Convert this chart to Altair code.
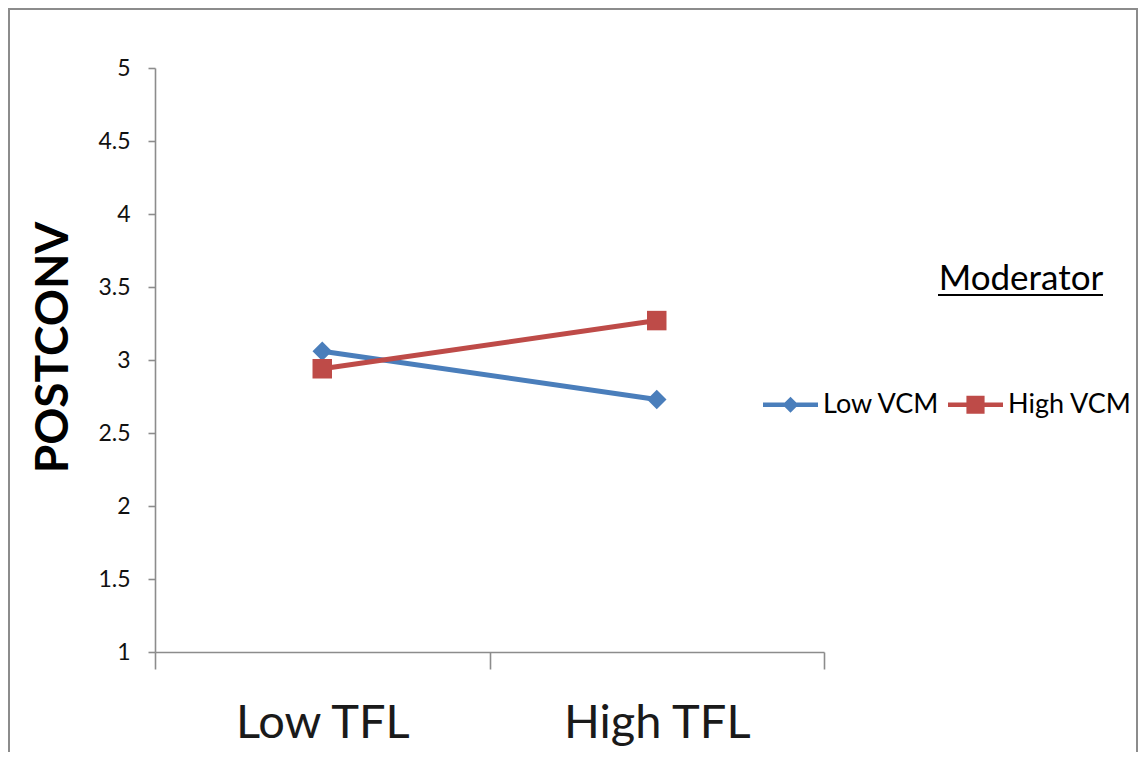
import altair as alt
import pandas as pd

# ---- data ----
categories = ["Low TFL", "High TFL"]
series_names = ["Low VCM", "High VCM"]
low_vcm = [3.06, 2.73]
high_vcm = [2.94, 3.27]
y_ticks = [1, 1.5, 2, 2.5, 3, 3.5, 4, 4.5, 5]
legend_title = ["Moderator"]
y_title = "POSTCONV"

colors = ["#4A7EBB", "#BE4B48"]
FONT = "Lato"

rows = []
for name, vals in zip(series_names, [low_vcm, high_vcm]):
    for cat, v in zip(categories, vals):
        rows.append({"tfl": cat, "series": name, "value": v})
df = pd.DataFrame(rows)

# legend symbols: line with marker (custom SVG paths in [-1,1] box)
legend_paths = [
    "M-1,-0.08L1,-0.08L1,0.08L-1,0.08Z M0,-0.29L0.29,0L0,0.29L-0.29,0Z",
    "M-1,-0.08L1,-0.08L1,0.08L-1,0.08Z M-0.33,-0.33L0.33,-0.33L0.33,0.33L-0.33,0.33Z",
]

W, H = 669, 584

x_enc = alt.X(
    "tfl:N",
    sort=categories,
    scale=alt.Scale(type="band", paddingInner=0, paddingOuter=0),
    axis=alt.Axis(
        title=None,
        tickBand="extent",
        tickSize=17,
        labelAngle=0,
        labelFont=FONT,
        labelFontSize=47,
        labelColor="#1a1a1a",
        labelBaseline="alphabetic",
        labelPadding=68,
        labelLimit=0,
        domainColor="#8c8c8c",
        tickColor="#8c8c8c",
        domainWidth=1.6,
        tickWidth=1.6,
        grid=False,
    ),
)
y_enc = alt.Y(
    "value:Q",
    scale=alt.Scale(domain=[1, 5], nice=False, zero=False),
    axis=alt.Axis(
        title=y_title,
        values=y_ticks,
        format="~g",
        tickSize=7,
        labelFont=FONT,
        labelFontSize=23,
        labelColor="#111111",
        labelPadding=18,
        titleFont=FONT,
        titleFontSize=46,
        titleFontWeight="bold",
        titleColor="#000000",
        titleBaseline="alphabetic",
        titleX=-88,
        titleY=279,
        titleAngle=-90,
        domainColor="#8c8c8c",
        tickColor="#8c8c8c",
        domainWidth=1.6,
        tickWidth=1.6,
        grid=False,
    ),
)
color_scale = alt.Scale(domain=series_names, range=colors)

base = alt.Chart(df)

lines = base.mark_line(strokeWidth=5, strokeCap="round").encode(
    x=x_enc,
    y=y_enc,
    color=alt.Color("series:N", scale=color_scale, legend=None),
    detail="series:N",
)

points = base.mark_point(filled=True, size=380, opacity=1).encode(
    x=x_enc,
    y=y_enc,
    color=alt.Color("series:N", scale=color_scale, legend=None),
    shape=alt.Shape(
        "series:N",
        scale=alt.Scale(domain=series_names, range=["diamond", "square"]),
        legend=None,
    ),
)

legend_props = dict(
    title=None,
    orient="none",
    legendX=608,
    legendY=309,
    direction="horizontal",
    symbolSize=3025,
    symbolStrokeWidth=0,
    labelFont=FONT,
    labelFontSize=27,
    labelColor="#000000",
    labelOffset=5,
    columnPadding=8,
    padding=0,
)

legend_layer = (
    base.transform_filter("false")
    .mark_point(filled=True, opacity=1)
    .encode(
        x=x_enc,
        y=y_enc,
        color=alt.Color("series:N", scale=color_scale, legend=alt.Legend(**legend_props)),
        shape=alt.Shape(
            "series:N",
            scale=alt.Scale(domain=series_names, range=legend_paths),
            legend=alt.Legend(**legend_props),
        ),
    )
)

title_df = pd.DataFrame({"t": legend_title})
mod_text = alt.Chart(title_df).mark_text(
    font=FONT, fontSize=35, color="#000000", align="center", baseline="alphabetic"
).encode(text="t:N", x=alt.value(866), y=alt.value(222))
mod_line = alt.Chart(title_df).mark_rule(color="#000000", strokeWidth=2).encode(
    x=alt.value(783), x2=alt.value(948), y=alt.value(227)
)

border = alt.Chart(title_df).mark_rect(
    fill=None, fillOpacity=0, stroke="#8c8c8c", strokeWidth=2
).encode(
    x=alt.value(-146), x2=alt.value(982), y=alt.value(-59), y2=alt.value(720)
)

chart = (
    alt.layer(border, lines, points, legend_layer, mod_text, mod_line)
    .resolve_scale(color="independent", shape="independent")
    .properties(
        width=W,
        height=H,
        autosize=alt.AutoSizeParams(type="none"),
        padding={"left": 147, "top": 60, "right": 315, "bottom": 100},
        background="white",
    )
    .configure_view(stroke=None)
)

chart.save("out.html", embed_options={"renderer": "svg", "actions": False})
